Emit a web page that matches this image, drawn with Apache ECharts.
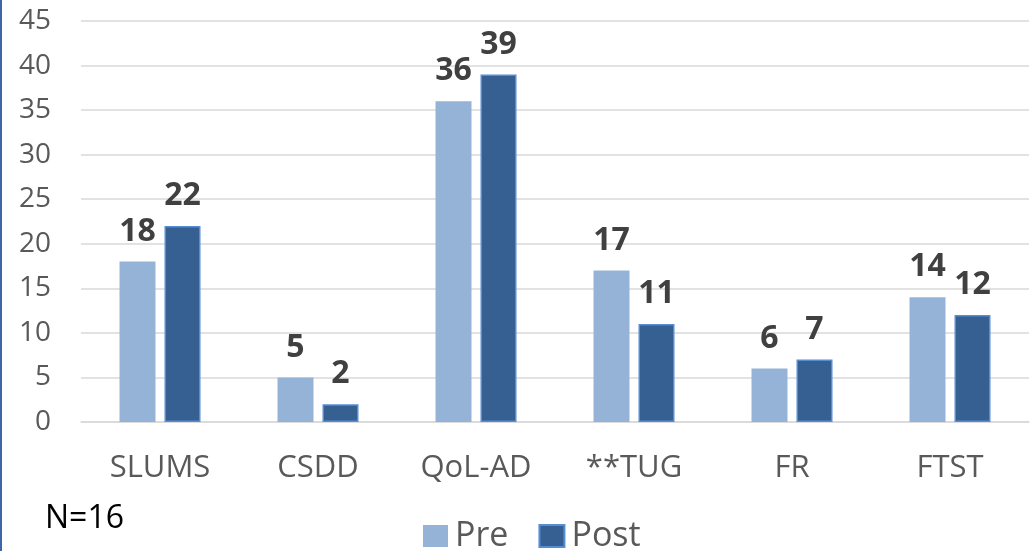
<!DOCTYPE html>
<html>
<head>
<meta charset="utf-8">
<script src="https://cdn.jsdelivr.net/npm/echarts@6/dist/echarts.min.js"></script>
<style>
  html, body { margin: 0; padding: 0; background: #fff; }
  #chart { width: 1032px; height: 551px; }
</style>
</head>
<body>
<div id="chart"></div>
<script>
// Outcome measures, before and after the programme
const categories = ['SLUMS', 'CSDD', 'QoL-AD', '**TUG', 'FR', 'FTST'];
const preValues = [18, 5, 36, 17, 6, 14];
const postValues = [22, 2, 39, 11, 7, 12];
const seriesNames = ['Pre', 'Post'];
const yTicks = { min: 0, max: 45, interval: 5 };
const sampleNote = 'N=16';

const FONT = '"Open Sans", "Liberation Sans", sans-serif';

const chart = echarts.init(document.getElementById('chart'), null, { renderer: 'canvas' });

const labelStyle = {
  show: true,
  position: 'top',
  distance: 14,
  color: '#404040',
  fontFamily: FONT,
  fontWeight: 'bold',
  fontSize: 32
};

chart.setOption({
  animation: false,
  backgroundColor: '#ffffff',
  textStyle: { fontFamily: FONT },
  grid: { left: 81, right: 3, top: 21, bottom: 129, containLabel: false },
  legend: {
    data: seriesNames,
    left: 418,
    top: 514,
    itemWidth: 25,
    itemHeight: 22,
    itemGap: 30,
    icon: 'rect',
    textStyle: { color: '#595959', fontSize: 34, fontFamily: FONT, lineHeight: 34, padding: [0, 0, 0, 2] }
  },
  xAxis: {
    type: 'category',
    data: categories,
    axisLine: { lineStyle: { color: '#d9d9d9', width: 1.5 } },
    axisTick: { show: false },
    axisLabel: { color: '#595959', fontSize: 31, fontFamily: FONT, margin: 31 }
  },
  yAxis: {
    type: 'value',
    min: yTicks.min,
    max: yTicks.max,
    interval: yTicks.interval,
    axisLine: { show: false },
    axisTick: { show: false },
    splitLine: { lineStyle: { color: '#d9d9d9', width: 1.5 } },
    axisLabel: { color: '#595959', fontSize: 28, fontFamily: FONT, margin: 30 }
  },
  series: [
    {
      name: seriesNames[0],
      type: 'bar',
      data: preValues,
      barWidth: 36,
      barGap: '25%',
      itemStyle: { color: '#95b3d7' },
      label: labelStyle
    },
    {
      name: seriesNames[1],
      type: 'bar',
      data: postValues,
      barWidth: 36,
      itemStyle: { color: '#366092', borderColor: '#558ed5', borderWidth: 1.5 },
      label: labelStyle
    }
  ],
  graphic: [
    {
      type: 'rect',
      left: 0,
      top: 0,
      shape: { width: 2, height: 551 },
      style: { fill: '#3f66a8' },
      silent: true
    },
    {
      type: 'text',
      left: 45,
      top: 503,
      style: { text: sampleNote, fill: '#000000', fontSize: 32, fontFamily: FONT }
    }
  ]
});
</script>
</body>
</html>
